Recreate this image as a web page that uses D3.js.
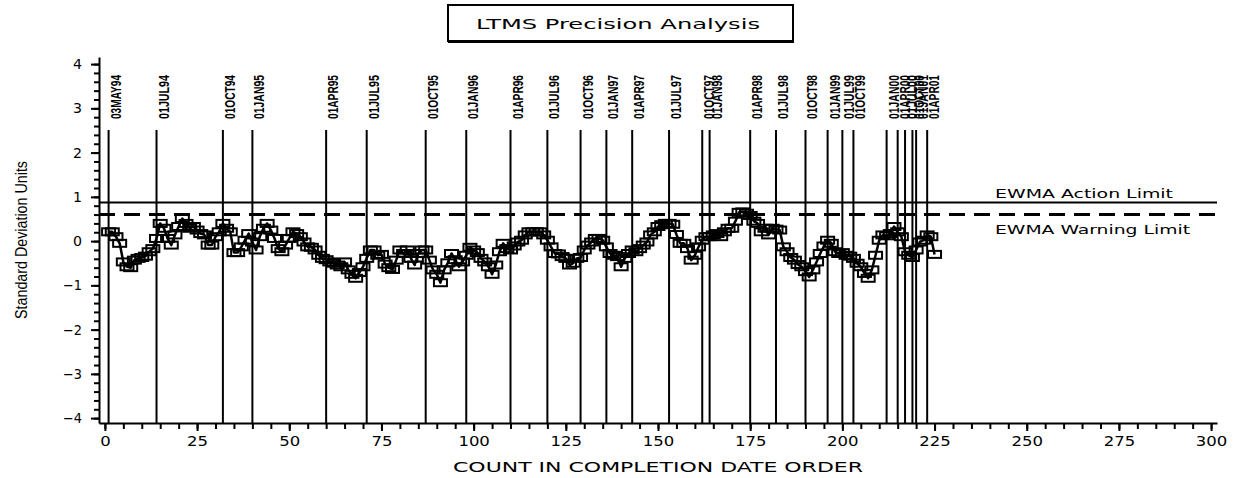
<!DOCTYPE html>
<html>
<head>
<meta charset="utf-8">
<script src="https://cdn.jsdelivr.net/npm/d3@7.9.0/dist/d3.min.js"></script>
<style>
  body { margin: 0; background: #fff; }
  svg { display: block; }
  .wide { font-family: "DejaVu Sans", sans-serif; }
  .narrow { font-family: "Liberation Sans Narrow", "Liberation Sans", Arial, sans-serif; }
</style>
</head>
<body>
<div id="chart"></div>
<script>
// EWMA values in completion-date order (count 1..225)
const ewma = [
  0.21, 0.21, 0.10, -0.05, -0.47, -0.58, -0.60, -0.43, -0.39, -0.37,
  -0.34, -0.24, -0.17, 0.06, 0.40, 0.29, 0.06, -0.09, 0.14, 0.33,
  0.51, 0.40, 0.29, 0.33, 0.25, 0.17, 0.14, -0.09, -0.09, 0.10,
  0.21, 0.40, 0.29, 0.21, -0.26, -0.26, -0.13, 0.02, 0.17, -0.02,
  -0.20, 0.10, 0.29, 0.40, 0.25, 0.06, -0.17, -0.24, -0.09, 0.06,
  0.21, 0.17, 0.10, -0.02, -0.13, -0.14, -0.20, -0.32, -0.39, -0.42,
  -0.47, -0.50, -0.54, -0.58, -0.47, -0.65, -0.75, -0.84, -0.71, -0.58,
  -0.39, -0.20, -0.20, -0.32, -0.30, -0.52, -0.60, -0.64, -0.43, -0.20,
  -0.28, -0.20, -0.39, -0.54, -0.28, -0.20, -0.20, -0.43, -0.65, -0.75,
  -0.94, -0.65, -0.49, -0.28, -0.42, -0.58, -0.47, -0.32, -0.14, -0.20,
  -0.26, -0.39, -0.47, -0.58, -0.75, -0.54, -0.24, -0.05, -0.17, -0.20,
  -0.11, -0.02, 0.02, 0.14, 0.21, 0.21, 0.21, 0.21, 0.14, 0.02,
  -0.13, -0.28, -0.29, -0.35, -0.39, -0.54, -0.50, -0.39, -0.37, -0.20,
  -0.09, -0.02, 0.06, 0.06, 0.02, -0.13, -0.28, -0.32, -0.35, -0.58,
  -0.39, -0.28, -0.20, -0.24, -0.17, -0.09, -0.02, 0.14, 0.21, 0.33,
  0.37, 0.40, 0.40, 0.38, 0.15, -0.05, -0.05, -0.17, -0.43, -0.32,
  -0.13, 0.02, 0.10, 0.10, 0.14, 0.17, 0.10, 0.21, 0.29, 0.29,
  0.45, 0.65, 0.66, 0.63, 0.58, 0.45, 0.40, 0.21, 0.29, 0.14,
  0.29, 0.27, 0.25, -0.13, -0.24, -0.37, -0.43, -0.53, -0.58, -0.69,
  -0.81, -0.65, -0.47, -0.28, -0.11, 0.02, -0.05, -0.24, -0.28, -0.26,
  -0.32, -0.34, -0.39, -0.50, -0.58, -0.73, -0.84, -0.65, -0.32, 0.02,
  0.14, 0.12, 0.17, 0.33, 0.21, 0.10, -0.24, -0.32, -0.37, -0.20,
  -0.02, 0.02, 0.14, 0.10, -0.30
];

// first test of each quarter: label and its count
const dateLabels = ['03MAY94', '01JUL94', '01OCT94', '01JAN95', '01APR95', '01JUL95',
  '01OCT95', '01JAN96', '01APR96', '01JUL96', '01OCT96', '01JAN97', '01APR97',
  '01JUL97', '01OCT97', '01JAN98', '01APR98', '01JUL98', '01OCT98', '01JAN99',
  '01JUL99', '01OCT99', '01JAN00', '01APR00', '01JUL00', '01OCT00', '01JAN01', '01APR01'];
const dateCounts = [1, 14, 32, 40, 60, 71, 87, 98, 110, 120, 129, 136, 143, 153, 162, 164,
  175, 182, 190, 196, 200, 203, 212, 215, 217, 219, 220, 223];

const actionLimit = 0.87;
const warningLimit = 0.60;

const xTicks = [0, 25, 50, 75, 100, 125, 150, 175, 200, 225, 250, 275, 300];
const yTicks = [-4, -3, -2, -1, 0, 1, 2, 3, 4];

const width = 1245;
const height = 478;

const svg = d3.select('#chart').append('svg')
  .attr('width', width)
  .attr('height', height);

const x = d3.scaleLinear().domain([-1.6, 301.6]).range([99, 1217]);
const y = d3.scaleLinear().domain([-4.11, 4.16]).range([423, 57]);

// title box
svg.append('rect')
  .attr('x', 448).attr('y', 5).attr('width', 345).attr('height', 36)
  .attr('fill', 'none').attr('stroke', '#000').attr('stroke-width', 2);
svg.append('line')
  .attr('x1', 448).attr('x2', 794).attr('y1', 42).attr('y2', 42)
  .attr('stroke', '#000').attr('stroke-width', 2);
svg.append('text').attr('class', 'wide')
  .attr('x', 618).attr('y', 29)
  .attr('text-anchor', 'middle')
  .attr('font-size', 14)
  .attr('textLength', 284).attr('lengthAdjust', 'spacingAndGlyphs')
  .text('LTMS Precision Analysis');

// minor ticks
svg.append('g')
  .attr('transform', `translate(0,${y.range()[0]})`)
  .call(d3.axisBottom(x).tickValues(d3.range(0, 301, 5)).tickSize(6).tickFormat('').tickSizeOuter(0))
  .call(g => g.select('.domain').remove());
svg.append('g')
  .attr('transform', `translate(${x.range()[0]},0)`)
  .call(d3.axisLeft(y).tickValues(d3.range(-40, 41, 2).map(d => d / 10)).tickSize(5).tickFormat('').tickSizeOuter(0))
  .call(g => g.select('.domain').remove());

// main axes
const xAxis = svg.append('g')
  .attr('transform', `translate(0,${y.range()[0]})`)
  .call(d3.axisBottom(x).tickValues(xTicks).tickSize(8).tickPadding(5).tickSizeOuter(0));
const yAxis = svg.append('g')
  .attr('transform', `translate(${x.range()[0]},0)`)
  .call(d3.axisLeft(y).tickValues(yTicks).tickSize(8).tickPadding(9).tickSizeOuter(0));

[xAxis, yAxis].forEach(g => {
  g.selectAll('.domain, line').attr('stroke', '#000').attr('stroke-width', 2);
  g.selectAll('text')
    .attr('class', 'wide')
    .attr('font-size', 14)
    .attr('fill', '#000');
});
xAxis.selectAll('text').each(function () {
  const t = d3.select(this);
  t.attr('textLength', t.text().length * 10.5).attr('lengthAdjust', 'spacingAndGlyphs');
});
yAxis.selectAll('text').each(function (d) {
  const t = d3.select(this);
  t.attr('textLength', d < 0 ? 19 : 9).attr('lengthAdjust', 'spacingAndGlyphs');
});
svg.selectAll('.tick line').attr('stroke', '#000').attr('stroke-width', 2);

// axis titles
svg.append('text').attr('class', 'wide')
  .attr('x', 658).attr('y', 472)
  .attr('text-anchor', 'middle')
  .attr('font-size', 14)
  .attr('textLength', 410).attr('lengthAdjust', 'spacingAndGlyphs')
  .text('COUNT IN COMPLETION DATE ORDER');
svg.append('text').attr('class', 'narrow')
  .attr('transform', 'translate(27,240) rotate(-90)')
  .attr('text-anchor', 'middle')
  .attr('font-size', 16)
  .attr('textLength', 158).attr('lengthAdjust', 'spacingAndGlyphs')
  .text('Standard Deviation Units');

// quarter reference lines and labels
const dates = dateCounts.map((c, i) => ({ count: c, label: dateLabels[i] }));
svg.append('g').selectAll('line')
  .data(dates)
  .join('line')
  .attr('x1', d => x(d.count)).attr('x2', d => x(d.count))
  .attr('y1', 130).attr('y2', y.range()[0])
  .attr('stroke', '#000').attr('stroke-width', 2);
svg.append('g').selectAll('text')
  .data(dates)
  .join('text')
  .attr('class', 'narrow')
  .attr('transform', d => `translate(${x(d.count) + 12},119) rotate(-90)`)
  .attr('font-size', 15)
  .attr('font-weight', 'bold')
  .attr('textLength', 44).attr('lengthAdjust', 'spacingAndGlyphs')
  .text(d => d.label);

// limits
svg.append('line')
  .attr('x1', x.range()[0]).attr('x2', x.range()[1])
  .attr('y1', y(actionLimit)).attr('y2', y(actionLimit))
  .attr('stroke', '#000').attr('stroke-width', 2);
svg.append('line')
  .attr('x1', x.range()[0]).attr('x2', x.range()[1])
  .attr('y1', y(warningLimit)).attr('y2', y(warningLimit))
  .attr('stroke', '#000').attr('stroke-width', 3)
  .attr('stroke-dasharray', '16 9');
svg.append('text').attr('class', 'wide')
  .attr('x', 995).attr('y', y(actionLimit) - 5)
  .attr('font-size', 13)
  .attr('textLength', 178).attr('lengthAdjust', 'spacingAndGlyphs')
  .text('EWMA Action Limit');
svg.append('text').attr('class', 'wide')
  .attr('x', 995).attr('y', y(warningLimit) + 19)
  .attr('font-size', 13)
  .attr('textLength', 195).attr('lengthAdjust', 'spacingAndGlyphs')
  .text('EWMA Warning Limit');

// EWMA series
const pts = ewma.map((v, i) => ({ count: i + 1, value: v }));
svg.append('path')
  .datum(pts)
  .attr('fill', 'none')
  .attr('stroke', '#000')
  .attr('stroke-width', 2.5)
  .attr('stroke-linejoin', 'round')
  .attr('d', d3.line().x(d => x(d.count)).y(d => y(d.value)));
svg.append('g').selectAll('rect')
  .data(pts)
  .join('rect')
  .attr('x', d => x(d.count) - 6.5)
  .attr('y', d => y(d.value) - 3.5)
  .attr('width', 13).attr('height', 7)
  .attr('fill', 'none')
  .attr('stroke', '#000')
  .attr('stroke-width', 2);
</script>
</body>
</html>
